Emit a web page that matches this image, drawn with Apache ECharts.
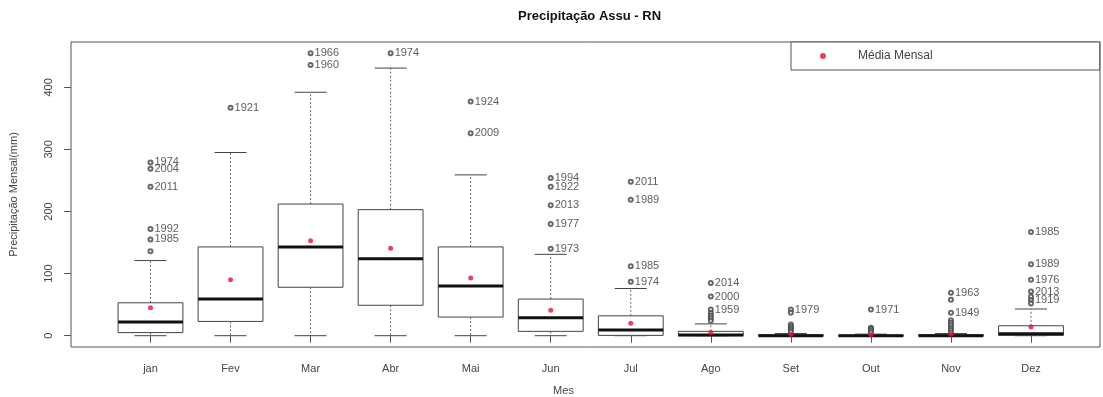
<!DOCTYPE html>
<html>
<head>
<meta charset="utf-8">
<script src="https://cdn.jsdelivr.net/npm/echarts@6/dist/echarts.min.js"></script>
<style>html,body{margin:0;padding:0;background:#fff;}#c{width:1103px;height:397px;}</style>
</head>
<body>
<div id="c"></div>
<script>
// ---- data ----
const months = ['jan','Fev','Mar','Abr','Mai','Jun','Jul','Ago','Set','Out','Nov','Dez'];
const lowerWhisker = [0, 0, 0, 0, 0, 0, 0, 0, 0, 0, 0, 0];
const q1 =           [5, 23, 78, 49, 30, 7, 0.5, 0, 0, 0, 0, 0.5];
const median =       [22, 59, 143, 124, 80, 29, 9, 1, 0, 0, 0, 3];
const q3 =           [53, 143, 212, 203, 143, 59, 32, 7, 1.5, 1, 1.5, 16];
const upperWhisker = [121, 295, 392, 431, 259, 131, 76, 19, 3.5, 2.5, 3.5, 43];
const monthlyMean =  [45, 90, 153, 141, 93, 41, 20, 5, 2, 1.5, 2.5, 14];

// outliers: month number, value (mm), year label (null = unlabelled)
const outlierMonth = [1,1,1,1,1,1, 2, 3,3, 4, 5,5, 6,6,6,6,6, 7,7,7,7,
  8,8,8,8,8,8,8, 9,9,9,9,9,9,9, 10,10,10,10,10, 11,11,11,11,11,11,11,11,11, 12,12,12,12,12,12,12];
const outlierValue = [279,269,240,172,155,136, 367, 455,436, 455, 377,326, 254,240,210,180,140, 248,219,112,87,
  85,63,42,36,32,28,24, 42,37,18,15,12,9,6, 42,13,11,8,5, 69,58,37,25,21,17,13,9,5, 167,115,90,71,58,63,52];
const outlierYear = ['1974','2004','2011','1992','1985',null, '1921', '1966','1960', '1974', '1924','2009',
  '1994','1922','2013','1977','1973', '2011','1989','1985','1974',
  '2014','2000','1959',null,null,null,null, '1979',null,null,null,null,null,null,
  '1971',null,null,null,null, '1963',null,'1949',null,null,null,null,null,null,
  '1985','1989','1976','2013','1919',null,null];

const yTicks = [0, 100, 200, 300, 400];
const xTicks = [1,2,3,4,5,6,7,8,9,10,11,12];

// ---- build ----
const boxData = months.map((m, i) => [i + 1, lowerWhisker[i], q1[i], median[i], q3[i], upperWhisker[i]]);
const meanData = months.map((m, i) => [i + 1, monthlyMean[i]]);
const outData = outlierMonth.map((m, i) => [m, outlierValue[i], outlierYear[i] || '']);

const FONT = 'Liberation Sans, Arial, sans-serif';
const chart = echarts.init(document.getElementById('c'), null, {renderer: 'canvas'});

chart.setOption({
  animation: false,
  backgroundColor: '#fff',
  title: {
    text: 'Precipitação Assu - RN',
    left: 518, top: 10, padding: 0,
    textStyle: {fontFamily: FONT, fontSize: 13, fontWeight: 'bold', color: '#111'}
  },
  legend: {
    data: [{name: 'Média Mensal', icon: 'circle'}],
    left: 791, top: 42,
    padding: [8, 167, 8, 29],
    itemWidth: 6, itemHeight: 6,
    borderColor: '#555', borderWidth: 1, borderRadius: 0,
    backgroundColor: '#fff',
    textStyle: {fontFamily: FONT, fontSize: 12, color: '#444', padding: [0, 0, 0, 27]}
  },
  grid: {left: 71, right: 3, top: 42, bottom: 50, show: true, borderColor: '#555', borderWidth: 1,
    backgroundColor: 'transparent', outerBoundsMode: 'none', containLabel: false},
  xAxis: {
    type: 'value', min: 0.007, max: 12.862,
    name: 'Mes', nameLocation: 'middle', nameGap: 38,
    nameTextStyle: {fontFamily: FONT, fontSize: 11, color: '#444', padding: [0, 44, 0, 0]},
    axisLine: {show: false},
    splitLine: {show: false},
    axisTick: {show: true, customValues: xTicks, length: 7, inside: false, lineStyle: {color: '#555'}},
    axisLabel: {customValues: xTicks, margin: 16, fontFamily: FONT, fontSize: 11, color: '#444',
      formatter: v => months[Math.round(v) - 1] || ''}
  },
  yAxis: {
    type: 'value', min: -18.2, max: 473,
    name: 'Precipitação Mensal(mm)', nameLocation: 'middle', nameGap: 52,
    nameTextStyle: {fontFamily: FONT, fontSize: 11, color: '#444'},
    axisLine: {show: false},
    splitLine: {show: false},
    axisTick: {show: true, customValues: yTicks, length: 7, inside: false, lineStyle: {color: '#555'}},
    axisLabel: {customValues: yTicks, rotate: 90, margin: 17, fontFamily: FONT, fontSize: 11, color: '#444'}
  },
  series: [
    {
      type: 'custom',
      name: 'boxes',
      data: boxData,
      encode: {x: 0, y: [1, 2, 3, 4, 5]},
      renderItem: function (params, api) {
        const x = api.value(0);
        const lo = api.coord([x, api.value(1)]);
        const b1 = api.coord([x, api.value(2)]);
        const md = api.coord([x, api.value(3)]);
        const b3 = api.coord([x, api.value(4)]);
        const hi = api.coord([x, api.value(5)]);
        const half = api.size([0.81, 0])[0] / 2;
        const cap = api.size([0.4, 0])[0] / 2;
        const cx = md[0];
        const dash = {stroke: '#666', lineWidth: 1, lineDash: [2, 2]};
        const solid = {stroke: '#444', lineWidth: 1};
        return {
          type: 'group',
          children: [
            {type: 'line', shape: {x1: cx, y1: b3[1], x2: cx, y2: hi[1]}, style: dash},
            {type: 'line', shape: {x1: cx, y1: b1[1], x2: cx, y2: lo[1]}, style: dash},
            {type: 'line', shape: {x1: cx - cap, y1: hi[1], x2: cx + cap, y2: hi[1]}, style: solid},
            {type: 'line', shape: {x1: cx - cap, y1: lo[1], x2: cx + cap, y2: lo[1]}, style: solid},
            {type: 'rect', shape: {x: cx - half, y: b3[1], width: 2 * half, height: Math.max(b1[1] - b3[1], 1)},
              style: {fill: '#fff', stroke: '#444', lineWidth: 1}},
            {type: 'line', shape: {x1: cx - half, y1: md[1], x2: cx + half, y2: md[1]},
              style: {stroke: '#111', lineWidth: 3}}
          ]
        };
      },
      z: 2
    },
    {
      type: 'scatter',
      name: 'outliers',
      data: outData,
      symbol: 'emptyCircle',
      symbolSize: 4,
      itemStyle: {color: '#444', borderColor: '#444', borderWidth: 0.8},
      label: {
        show: true, position: 'right', distance: 1, offset: [0, -4],
        formatter: p => p.value[2],
        fontFamily: FONT, fontSize: 11, color: '#333'
      },
      labelLayout: {hideOverlap: false},
      z: 3
    },
    {
      type: 'scatter',
      name: 'Média Mensal',
      data: meanData,
      symbol: 'circle',
      symbolSize: 5,
      itemStyle: {color: '#e0143c'},
      z: 4
    }
  ]
});
</script>
</body>
</html>
